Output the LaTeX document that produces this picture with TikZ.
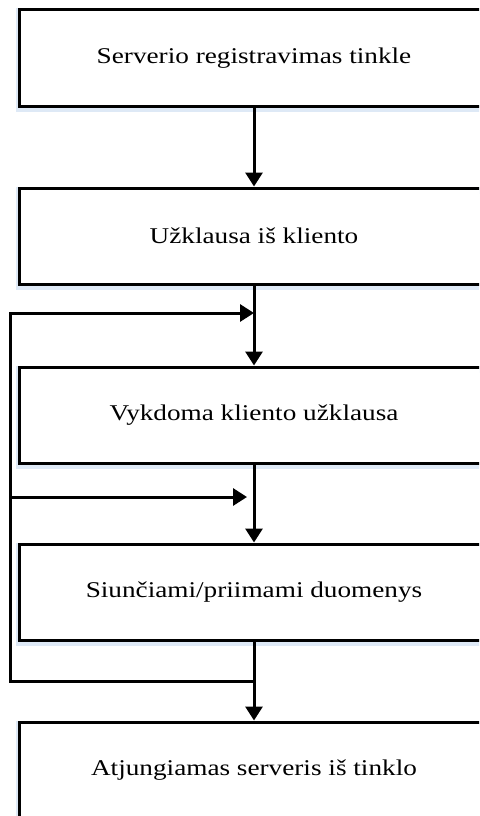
\documentclass[tikz,border=0pt]{standalone}
\usepackage{fontspec}
\setmainfont{Liberation Serif}[FakeStretch=1.21]
\usetikzlibrary{arrows.meta}
\definecolor{glow}{RGB}{222,233,246}
\tikzset{
  stepbox/.style={draw=black, line width=3pt, fill=white,
    minimum width=470pt, minimum height=96pt, inner sep=0pt,
    font=\fontsize{22.5}{27}\selectfont,
    preaction={draw=glow, line width=7pt, transform canvas={yshift=-2pt}}},
  flow/.style={line width=3pt,
    -{Triangle[length=14pt,width=17pt]}},
  plainline/.style={line width=3pt, line cap=rect},
}
\begin{document}
\begin{tikzpicture}[x=1pt,y=-1pt]
  \useasboundingbox (0,0) rectangle (479,816);
  \clip (0,0) rectangle (479,816);

  \node[stepbox] (b1) at (254,58) {Serverio registravimas tinkle};
  \node[stepbox] (b2) at (254,236) {Užklausa iš kliento};
  \node[stepbox] (b3) at (254,415) {Vykdoma kliento užklausa};
  \node[stepbox] (b4) at (254,592) {Siunčiami/priimami duomenys};
  \node[stepbox] (b5) at (254,770) {Atjungiamas serveris iš tinklo};

  % main sequence
  \draw[flow] (b1.south) -- (b2.north);
  \draw[flow] (b2.south) -- (b3.north);
  \draw[flow] (b3.south) -- (b4.north);
  \draw[flow] (b4.south) -- (b5.north);

  % return loop on the left
  \coordinate (j4) at (254,681);
  \coordinate (lb) at (10,681);
  \coordinate (lm) at (10,497);
  \coordinate (lt) at (10,313);
  \coordinate (j2) at (254,313);
  \coordinate (j3) at (247,497);
  \draw[plainline] (j4) -- (lb) -- (lt);
  \draw[flow] (lt) -- (j2);
  \draw[flow] (lm) -- (j3);
\end{tikzpicture}
\end{document}
